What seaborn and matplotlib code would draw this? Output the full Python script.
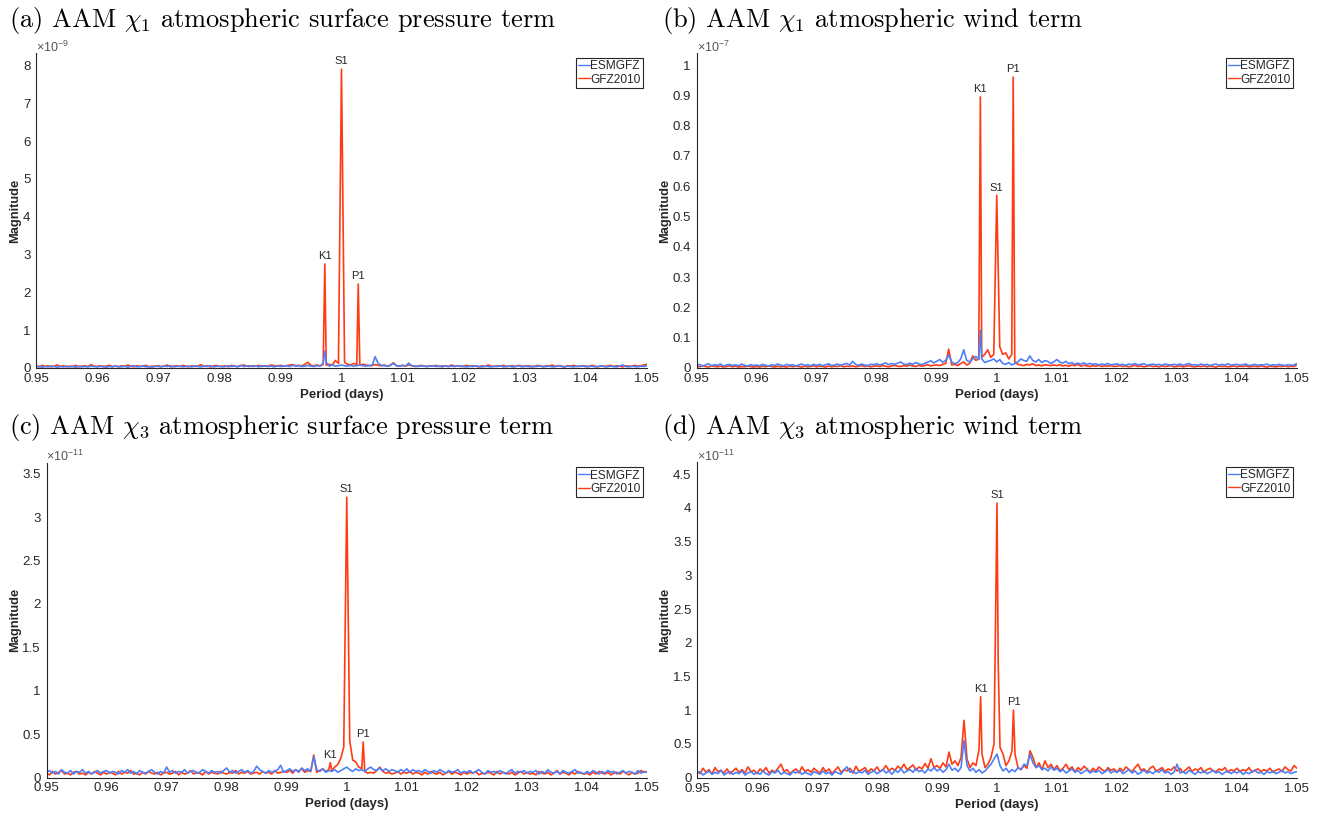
import numpy as np
import pandas as pd
import matplotlib
matplotlib.use("Agg")
import matplotlib.pyplot as plt
import seaborn as sns

# ---------------- data ----------------
period = np.round(np.linspace(0.95, 1.05, 201), 5)   # period grid (days)
x_ticks = [0.95, 0.96, 0.97, 0.98, 0.99, 1.00, 1.01, 1.02, 1.03, 1.04, 1.05]
x_ticklabels = ["0.95", "0.96", "0.97", "0.98", "0.99", "1", "1.01", "1.02", "1.03", "1.04", "1.05"]

titles = [r"(a) AAM $\chi_1$ atmospheric surface pressure term",
          r"(b) AAM $\chi_1$ atmospheric wind term",
          r"(c) AAM $\chi_3$ atmospheric surface pressure term",
          r"(d) AAM $\chi_3$ atmospheric wind term"]
exponents = [-9, -7, -11, -11]
y_ticks = [[0, 1, 2, 3, 4, 5, 6, 7, 8],
           [0, 0.1, 0.2, 0.3, 0.4, 0.5, 0.6, 0.7, 0.8, 0.9, 1.0],
           [0, 0.5, 1, 1.5, 2, 2.5, 3, 3.5],
           [0, 0.5, 1, 1.5, 2, 2.5, 3, 3.5, 4, 4.5]]
y_top = [8.33, 1.04, 3.63, 4.68]

# magnitudes in units of 10^exponent, on the period grid
# (a) chi1 pressure
gfz_a = [0.05,0.03,0.07,0.04,0.06,0.03,0.05,0.08,0.04,0.06,0.03,0.05,0.04,0.07,0.03,0.05,0.06,0.04,0.09,0.05,
         0.04,0.06,0.03,0.05,0.07,0.04,0.05,0.03,0.06,0.04,0.08,0.05,0.03,0.06,0.04,0.05,0.07,0.03,0.05,0.04,
         0.06,0.04,0.05,0.08,0.03,0.05,0.06,0.04,0.07,0.05,0.03,0.06,0.04,0.05,0.09,0.04,0.06,0.03,0.05,0.07,
         0.04,0.05,0.06,0.03,0.07,0.05,0.04,0.06,0.08,0.05,0.04,0.06,0.05,0.07,0.04,0.06,0.05,0.08,0.06,0.05,
         0.07,0.05,0.06,0.08,0.09,0.06,0.07,0.05,0.10,0.15,0.07,0.06,0.08,0.06,0.09,0.07,0.10,0.08,0.20,0.12,
         0.25,0.15,0.10,0.08,0.12,0.09,0.07,0.10,0.08,0.06,0.07,0.09,0.07,0.06,0.08,0.05,0.07,0.14,0.06,0.05,
         0.07,0.05,0.08,0.06,0.04,0.05,0.07,0.05,0.04,0.06,0.05,0.07,0.04,0.06,0.05,0.04,0.08,0.05,0.06,0.04,
         0.05,0.07,0.04,0.06,0.05,0.03,0.06,0.04,0.08,0.05,0.04,0.06,0.05,0.07,0.04,0.05,0.06,0.04,0.07,0.05,
         0.04,0.06,0.05,0.03,0.07,0.05,0.04,0.06,0.05,0.08,0.04,0.06,0.05,0.03,0.06,0.05,0.07,0.04,0.05,0.06,
         0.05,0.04,0.07,0.05,0.03,0.06,0.04,0.05,0.07,0.04,0.06,0.05,0.03,0.06,0.05,0.04,0.07,0.05,0.06,0.08,
         0.10]
esm_a = [0.03,0.05,0.02,0.04,0.03,0.05,0.04,0.02,0.04,0.03,0.05,0.03,0.04,0.02,0.05,0.03,0.04,0.03,0.05,0.04,
         0.03,0.04,0.05,0.02,0.04,0.03,0.05,0.04,0.03,0.05,0.02,0.04,0.06,0.03,0.04,0.05,0.03,0.04,0.02,0.05,
         0.04,0.03,0.05,0.04,0.06,0.03,0.04,0.05,0.03,0.04,0.05,0.03,0.06,0.04,0.03,0.05,0.04,0.06,0.03,0.04,
         0.05,0.03,0.04,0.06,0.04,0.05,0.03,0.07,0.04,0.05,0.06,0.04,0.05,0.03,0.06,0.05,0.04,0.05,0.03,0.06,
         0.04,0.05,0.06,0.04,0.07,0.05,0.06,0.04,0.05,0.07,0.05,0.04,0.06,0.05,0.12,0.15,0.05,0.08,0.05,0.06,
         0.08,0.06,0.05,0.07,0.05,0.06,0.08,0.06,0.05,0.07,0.06,0.30,0.12,0.07,0.06,0.05,0.07,0.12,0.06,0.05,
         0.07,0.05,0.13,0.06,0.05,0.04,0.06,0.05,0.04,0.05,0.06,0.04,0.05,0.03,0.06,0.04,0.05,0.04,0.06,0.05,
         0.04,0.03,0.05,0.04,0.06,0.04,0.03,0.05,0.04,0.03,0.05,0.04,0.06,0.03,0.04,0.05,0.03,0.04,0.06,0.03,
         0.05,0.04,0.03,0.05,0.04,0.06,0.03,0.04,0.05,0.03,0.04,0.06,0.04,0.03,0.05,0.04,0.03,0.05,0.04,0.06,
         0.03,0.04,0.05,0.03,0.04,0.06,0.04,0.03,0.05,0.04,0.03,0.05,0.08,0.04,0.03,0.05,0.04,0.03,0.05,0.04,
         0.06]
# (b) chi1 wind
gfz_b = [.006,.004,.008,.005,.003,.007,.005,.004,.006,.003,.005,.007,.004,.006,.003,.005,.004,.006,.005,.003,
         .005,.003,.006,.004,.007,.005,.003,.006,.004,.005,.003,.007,.004,.006,.005,.003,.006,.004,.005,.007,
         .004,.006,.005,.003,.007,.004,.006,.005,.008,.004,.006,.005,.007,.004,.006,.008,.005,.007,.004,.006,
         .007,.005,.008,.006,.004,.007,.009,.006,.005,.008,.006,.010,.007,.005,.009,.006,.008,.011,.007,.009,
         .010,.008,.012,.015,.062,.010,.012,.008,.015,.020,.010,.015,.040,.025,.030,.035,.045,.060,.035,.045,
         .060,.070,.045,.050,.030,.045,.020,.012,.010,.008,.012,.010,.014,.008,.010,.007,.011,.009,.008,.010,
         .008,.011,.007,.009,.006,.010,.008,.012,.006,.009,.007,.005,.008,.006,.009,.005,.007,.006,.008,.005,
         .006,.008,.005,.007,.004,.006,.009,.005,.007,.004,.006,.008,.005,.006,.004,.007,.005,.006,.008,.004,
         .005,.007,.004,.006,.008,.005,.004,.006,.005,.007,.004,.006,.005,.003,.007,.005,.006,.004,.005,.007,
         .004,.006,.005,.007,.004,.005,.006,.004,.007,.005,.003,.006,.005,.004,.006,.005,.007,.004,.006,.005,
         .010]
esm_b = [.008,.012,.006,.010,.014,.007,.011,.009,.013,.006,.010,.012,.008,.011,.007,.013,.009,.006,.011,.008,
         .010,.007,.012,.009,.006,.011,.008,.013,.010,.007,.012,.009,.011,.006,.010,.013,.008,.011,.007,.012,
         .009,.012,.007,.011,.014,.008,.010,.013,.009,.012,.015,.010,.022,.012,.009,.013,.010,.008,.012,.011,
         .014,.010,.013,.017,.011,.015,.012,.016,.020,.013,.011,.016,.012,.018,.014,.011,.015,.019,.024,.017,
         .022,.028,.019,.025,.043,.020,.014,.018,.030,.060,.025,.020,.030,.038,.028,.030,.018,.022,.025,.030,
         .020,.028,.015,.012,.018,.010,.015,.020,.030,.025,.022,.040,.025,.020,.028,.018,.024,.022,.015,.020,
         .028,.020,.016,.022,.014,.018,.012,.016,.013,.017,.011,.015,.012,.014,.010,.013,.011,.015,.010,.012,
         .014,.010,.012,.009,.013,.011,.015,.010,.012,.014,.009,.011,.013,.010,.012,.009,.013,.011,.010,.012,
         .010,.013,.009,.012,.015,.010,.011,.009,.013,.010,.012,.008,.011,.013,.009,.012,.010,.014,.009,.011,
         .012,.009,.011,.013,.008,.010,.012,.009,.011,.010,.013,.008,.011,.009,.012,.010,.008,.011,.009,.010,
         .015]
# (c) chi3 pressure
gfz_c = [.05,.03,.07,.04,.06,.08,.04,.05,.03,.06,.07,.04,.05,.03,.06,.04,.07,.05,.03,.06,
         .04,.06,.05,.03,.07,.04,.06,.05,.08,.04,.05,.03,.06,.04,.07,.05,.04,.06,.03,.05,
         .06,.04,.05,.07,.03,.06,.04,.05,.08,.04,.06,.05,.03,.07,.04,.06,.05,.04,.07,.05,
         .04,.06,.05,.08,.04,.06,.05,.07,.04,.05,.06,.04,.07,.05,.06,.04,.08,.05,.06,.07,
         .06,.08,.05,.09,.07,.10,.06,.08,.07,.26,.06,.08,.10,.07,.09,.08,.12,.15,.22,.35,
         .40,.42,.20,.18,.12,.10,.07,.05,.06,.05,.08,.12,.07,.05,.06,.04,.05,.07,.04,.06,
         .05,.07,.04,.06,.05,.03,.06,.04,.07,.05,.04,.06,.03,.05,.07,.04,.06,.05,.03,.06,
         .04,.06,.05,.07,.03,.05,.04,.06,.05,.03,.07,.04,.06,.05,.04,.06,.03,.05,.07,.04,
         .06,.04,.05,.03,.07,.05,.04,.06,.03,.05,.08,.04,.06,.05,.03,.06,.04,.07,.05,.04,
         .05,.03,.06,.04,.07,.05,.04,.06,.03,.05,.06,.04,.07,.05,.03,.06,.04,.05,.08,.06,
         .07]
esm_c = [.06,.08,.05,.07,.04,.09,.06,.05,.08,.04,.07,.06,.09,.05,.07,.04,.06,.08,.05,.07,
         .08,.05,.07,.06,.04,.08,.06,.09,.05,.07,.04,.08,.06,.05,.07,.09,.06,.04,.07,.05,
         .12,.06,.08,.05,.07,.06,.09,.05,.07,.08,.05,.06,.09,.07,.05,.08,.06,.07,.05,.08,
         .11,.06,.08,.05,.07,.09,.06,.08,.05,.07,.13,.09,.07,.05,.08,.06,.07,.09,.14,.06,
         .08,.10,.07,.09,.06,.11,.08,.10,.07,.24,.09,.07,.10,.06,.08,.07,.09,.06,.08,.10,
         .12,.09,.07,.10,.08,.09,.07,.10,.12,.09,.08,.11,.08,.10,.07,.09,.08,.06,.09,.07,
         .10,.06,.09,.07,.08,.06,.09,.07,.05,.08,.06,.09,.07,.05,.08,.06,.07,.09,.05,.07,
         .06,.08,.05,.07,.09,.06,.04,.08,.06,.07,.05,.08,.06,.04,.07,.09,.05,.07,.06,.08,
         .05,.07,.06,.08,.04,.07,.05,.09,.06,.05,.07,.04,.08,.06,.05,.07,.09,.05,.06,.04,
         .07,.05,.08,.06,.04,.07,.05,.08,.06,.07,.04,.06,.08,.05,.07,.06,.04,.08,.05,.07,
         .06]
# (d) chi3 wind
gfz_d = [.10,.06,.14,.08,.12,.05,.15,.09,.11,.07,.13,.06,.10,.14,.08,.12,.07,.16,.09,.11,
         .06,.13,.09,.15,.07,.11,.08,.14,.20,.09,.12,.06,.10,.13,.07,.16,.09,.12,.08,.14,
         .10,.07,.15,.09,.13,.06,.11,.16,.08,.12,.10,.14,.07,.17,.09,.12,.15,.08,.13,.10,
         .16,.09,.12,.18,.10,.14,.11,.17,.13,.20,.12,.15,.19,.11,.16,.13,.21,.14,.28,.15,
         .18,.14,.22,.16,.38,.20,.25,.18,.30,.85,.28,.15,.22,.18,.42,.35,.15,.20,.30,.50,
         .50,.45,.35,.18,.25,.40,.35,.15,.12,.18,.14,.40,.30,.15,.22,.12,.25,.15,.20,.12,
         .18,.10,.14,.20,.12,.16,.09,.15,.11,.17,.13,.08,.14,.10,.16,.12,.09,.15,.11,.13,
         .08,.14,.10,.16,.12,.09,.15,.20,.11,.13,.08,.14,.17,.10,.12,.15,.09,.13,.11,.16,
         .10,.14,.08,.12,.16,.09,.13,.11,.15,.08,.12,.14,.10,.09,.13,.11,.15,.08,.12,.10,
         .14,.09,.12,.10,.15,.08,.11,.13,.09,.12,.10,.14,.08,.11,.13,.09,.16,.12,.10,.18,
         .14]
esm_d = [.06,.09,.04,.07,.10,.05,.08,.06,.11,.04,.07,.09,.05,.08,.06,.10,.04,.07,.09,.05,
         .08,.05,.10,.06,.04,.09,.07,.11,.05,.08,.06,.04,.09,.07,.10,.05,.08,.06,.04,.09,
         .07,.05,.10,.06,.08,.04,.09,.07,.05,.12,.16,.08,.10,.06,.09,.07,.11,.05,.08,.10,
         .06,.09,.12,.07,.10,.05,.11,.08,.13,.07,.10,.12,.08,.14,.09,.11,.07,.13,.10,.15,
         .10,.13,.08,.12,.20,.11,.14,.09,.15,.55,.18,.10,.14,.08,.12,.07,.10,.15,.20,.28,
         .35,.18,.10,.14,.08,.12,.09,.15,.12,.20,.18,.35,.22,.15,.18,.12,.14,.10,.16,.11,
         .14,.09,.12,.07,.10,.13,.08,.11,.06,.09,.12,.07,.10,.08,.11,.06,.09,.12,.07,.10,
         .08,.11,.06,.09,.12,.07,.10,.05,.08,.11,.07,.09,.06,.10,.08,.12,.07,.09,.05,.08,
         .20,.07,.09,.06,.11,.08,.05,.09,.07,.10,.06,.08,.11,.07,.09,.05,.08,.10,.06,.09,
         .07,.10,.05,.08,.06,.09,.11,.07,.08,.05,.09,.07,.10,.06,.08,.11,.07,.09,.06,.08,
         .09]

# tidal peaks (period, magnitude) inserted between grid samples
gfz_peak_names = [["K1", "S1", "P1"], ["K1", "S1", "P1"], ["K1", "S1", "P1"], ["K1", "S1", "P1"]]
gfz_peak_period = [[0.99727, 1.0, 1.00274], [0.99727, 1.0, 1.00274],
                   [0.99727, 1.0, 1.00274], [0.99727, 1.0, 1.00274]]
gfz_peak_value = [[2.75, 7.9, 2.22], [0.895, 0.57, 0.96], [0.17, 3.23, 0.41], [1.20, 4.07, 1.00]]
gfz_extra_period = [[], [], [], [1.0002]]
gfz_extra_value = [[], [], [], [1.70]]
esm_peak_period = [[0.99727], [0.99727], [], []]
esm_peak_value = [[0.45], [0.125], [], []]

gfz_grid = [gfz_a, gfz_b, gfz_c, gfz_d]
esm_grid = [esm_a, esm_b, esm_c, esm_d]
series_names = ["ESMGFZ", "GFZ2010"]

# ---------------- style ----------------
W, H = 1323, 817
sns.set_style("white")
plt.rcParams["font.family"] = ["Liberation Sans", "DejaVu Sans"]
plt.rcParams["mathtext.fontset"] = "custom"
plt.rcParams["mathtext.rm"] = "Liberation Sans"
plt.rcParams["mathtext.it"] = "Liberation Sans:italic"
plt.rcParams["mathtext.bf"] = "Liberation Sans:bold"

BLUE = "#4f7ff7"
RED = "#ff3b14"
INK = "#262626"

# axes boxes in pixels: left, right, top, bottom
boxes = [(36, 647, 53, 368), (696.5, 1297, 53, 368),
         (46.5, 647, 462.5, 777.5), (697, 1297, 462, 777.7)]
title_pos = [(9, 20), (662, 20), (9, 428), (662, 428)]
ylabel_x = [15, 665, 15, 665]

fig = plt.figure(figsize=(W / 100, H / 100), dpi=100)


def build(grid_vals, px, py):
    df = pd.DataFrame({"period": np.concatenate([period, np.array(px, float)]),
                       "mag": np.concatenate([np.array(grid_vals, float), np.array(py, float)])})
    df = df.drop_duplicates("period", keep="last").sort_values("period")
    return df


for i in range(4):
    l, r, t, b = boxes[i]
    ax = fig.add_axes([l / W, 1 - b / H, (r - l) / W, (b - t) / H])
    gdf = build(gfz_grid[i], list(gfz_peak_period[i]) + gfz_extra_period[i],
                list(gfz_peak_value[i]) + gfz_extra_value[i])
    edf = build(esm_grid[i], esm_peak_period[i], esm_peak_value[i])
    sns.lineplot(data=gdf, x="period", y="mag", ax=ax, color=RED, lw=1.2,
                 estimator=None, sort=True, label=series_names[1])
    sns.lineplot(data=edf, x="period", y="mag", ax=ax, color=BLUE, lw=1.2,
                 estimator=None, sort=True, label=series_names[0])
    ax.set_xlim(0.95, 1.05)
    ax.set_ylim(0, y_top[i])
    ax.set_xticks(x_ticks)
    ax.set_xticklabels(x_ticklabels)
    ax.set_yticks(y_ticks[i])
    ax.set_yticklabels([f"{v:g}" for v in y_ticks[i]])
    ax.set_xlabel("")
    ax.set_ylabel("")
    for s in ["top", "right"]:
        ax.spines[s].set_visible(False)
    for s in ["left", "bottom"]:
        ax.spines[s].set_color(INK)
        ax.spines[s].set_linewidth(0.8)
    ax.tick_params(axis="both", direction="in", length=4.5, width=0.7, color=INK,
                   labelcolor=INK, labelsize=9.5)
    ax.tick_params(axis="x", pad=3.5)
    ax.tick_params(axis="y", pad=4.0)

    # peak labels
    for name, px_, py_ in zip(gfz_peak_names[i], gfz_peak_period[i], gfz_peak_value[i]):
        ax.annotate(name, xy=(px_, py_), xytext=(0, 2), textcoords="offset points",
                    ha="center", va="bottom", fontsize=8, color=INK)

    # legend: ESMGFZ first
    lines = ax.get_lines()
    h = {ln.get_label(): ln for ln in lines}
    leg = ax.legend([h["ESMGFZ"], h["GFZ2010"]], ["ESMGFZ", "GFZ2010"],
                    loc="upper right", bbox_to_anchor=(1 - 4 / (r - l), 1 - 4.7 / (b - t)),
                    borderaxespad=0, fontsize=8.6, handlelength=0.95, handletextpad=0.05,
                    borderpad=0.2, labelspacing=0.12, fancybox=False, framealpha=1)
    leg.get_frame().set_edgecolor(INK)
    leg.get_frame().set_linewidth(0.8)
    for lh in leg.get_lines():
        lh.set_linewidth(1.0)

    # exponent marker
    fig.text(l / W, 1 - (t - 6) / H, r"$\times10^{%d}$" % exponents[i], ha="left",
             va="center", fontsize=9, color="#555555")
    # axis labels
    fig.text(ylabel_x[i] / W, 1 - ((t + b) / 2) / H, "Magnitude", rotation=90, ha="center",
             va="center", fontsize=9.3, fontweight="bold", color=INK)
    fig.text(((l + r) / 2) / W, 1 - (b + 27) / H, "Period (days)", ha="center",
             va="center", fontsize=9.5, fontweight="bold", color=INK)
    # panel title
    fig.text(title_pos[i][0] / W, 1 - title_pos[i][1] / H, titles[i], ha="left",
             va="center", fontsize=19, fontfamily="cmr10", math_fontfamily="cm", color="black")

fig.savefig("out.png", dpi=100)
